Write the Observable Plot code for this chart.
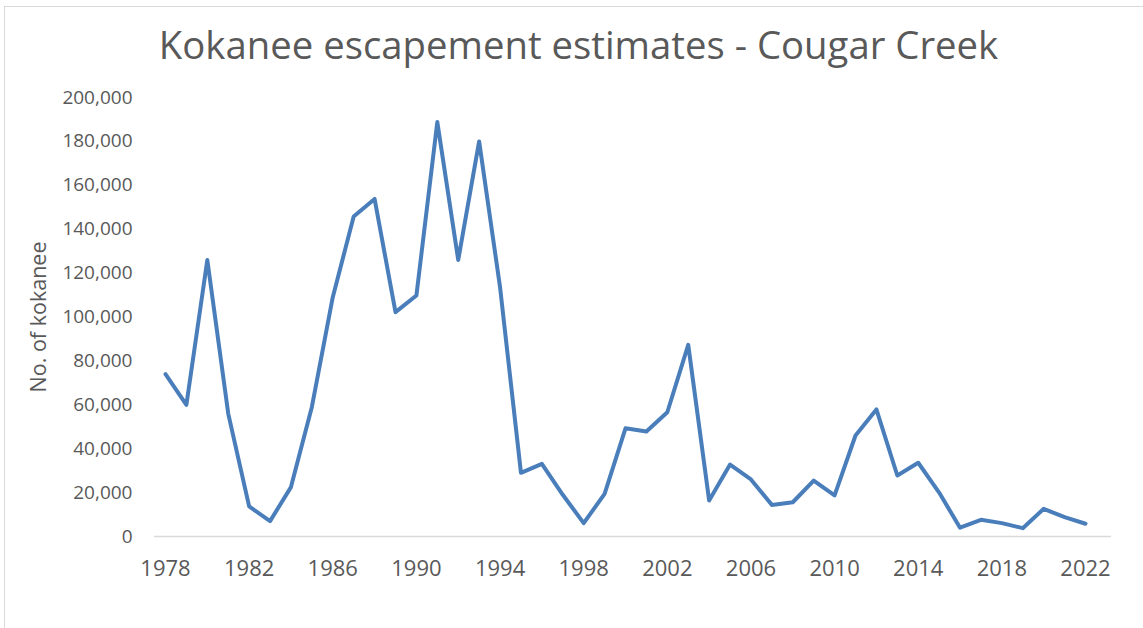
<!DOCTYPE html>
<html>
<head>
<meta charset="utf-8">
<script src="https://cdn.jsdelivr.net/npm/d3@7"></script>
<script src="https://cdn.jsdelivr.net/npm/@observablehq/plot@0.6"></script>
<style>
  html, body { margin: 0; padding: 0; background: #fff; overflow: hidden; }
  #wrap { position: relative; width: 1143px; height: 628px; overflow: hidden; }
  #frame { position: absolute; left: 4px; top: 6px; width: 1200px; height: 700px;
           border: 1px solid #d9d9d9; box-sizing: border-box; }
  #title { position: absolute; left: 0; top: 19px; width: 1157px; text-align: center;
           font-family: "Open Sans", sans-serif; font-size: 38.3px; line-height: 50px;
           color: #595959; margin: 0; font-weight: 400; }
  #chart { position: absolute; left: 0; top: 0; }
</style>
</head>
<body>
<div id="wrap">
  <div id="frame"></div>
  <div id="chart"></div>
  <h1 id="title">Kokanee escapement estimates - Cougar Creek</h1>
</div>
<script>
const years = d3.range(1978, 2023);
const escapement = [
  74000, 60000, 126000, 56000, 13700, 7000, 22500, 59000, 109000, 145800,
  153800, 102200, 109800, 188800, 126000, 180000, 113600, 29000, 33100, 19000,
  6100, 19400, 49300, 47800, 56600, 87300, 16400, 32800, 26000, 14400,
  15600, 25500, 18700, 46000, 57900, 27800, 33600, 20000, 4000, 7600,
  6100, 3800, 12600, 8800, 5800
];
const xTicks = [1978, 1982, 1986, 1990, 1994, 1998, 2002, 2006, 2010, 2014, 2018, 2022];
const yTicks = [0, 20000, 40000, 60000, 80000, 100000, 120000, 140000, 160000, 180000, 200000];

const data = years.map((y, i) => ({year: y, value: escapement[i]}));
const fmt = d3.format(",");

const chart = Plot.plot({
  width: 1143,
  height: 628,
  marginTop: 97,
  marginBottom: 92,
  marginLeft: 154,
  marginRight: 32,
  style: {fontFamily: "'Open Sans', sans-serif", color: "#595959", background: "transparent"},
  x: {domain: [1978, 2022], insetLeft: 11, insetRight: 26},
  y: {domain: [0, 200000]},
  marks: [
    Plot.ruleY([0], {stroke: "#d9d9d9", strokeWidth: 1.3}),
    Plot.line(data, {x: "year", y: "value", stroke: "#4a7ebb", strokeWidth: 4,
      strokeLinejoin: "round", strokeLinecap: "round"}),
    Plot.axisX({ticks: xTicks, tickFormat: d => String(d), tickSize: 0, tickPadding: 24,
      fontSize: 22, label: null, fill: "#595959"}),
    Plot.axisY({ticks: yTicks, tickFormat: fmt, tickSize: 0, tickPadding: 22,
      fontSize: 19, fill: "#595959",
      label: "No. of kokanee", labelAnchor: "center", labelArrow: "none", labelOffset: 124})
  ]
});
document.getElementById("chart").appendChild(chart);
chart.querySelectorAll("g[aria-label='y-axis label'] text").forEach(t => t.setAttribute("font-size", "21.5"));
</script>
</body>
</html>
